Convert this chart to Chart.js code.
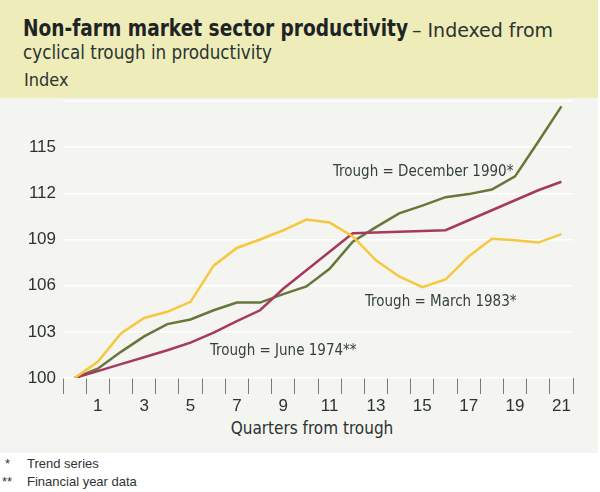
<!DOCTYPE html>
<html>
<head>
<meta charset="utf-8">
<script src="https://cdn.jsdelivr.net/npm/chart.js@4/dist/chart.umd.min.js"></script>
<style>
  html, body { margin: 0; padding: 0; background: #ffffff; }
  #wrap { position: relative; width: 600px; height: 492px; overflow: hidden; background: #ffffff; font-family: "Liberation Sans", Arial, sans-serif; }
  #header { position: absolute; left: 0; top: 0; width: 598px; height: 98px; background: #EEEDB9; }
  #plotbg { position: absolute; left: 0; top: 98px; width: 598px; height: 355px; background: #F4F4F0; }
  .fit { position: absolute; white-space: nowrap; transform-origin: 0 0; display: inline-block; }
  #t1b { left: 23px; top: 15px; font-family: "DejaVu Sans Condensed", "Liberation Sans", sans-serif; font-weight: bold; font-size: 23px; color: #1e2424; }
  #t1r { left: 412px; top: 18px; font-family: "DejaVu Sans Condensed", "Liberation Sans", sans-serif; font-size: 20px; color: #2b3333; }
  #title2 { left: 23px; top: 41px; font-family: "DejaVu Sans Condensed", "Liberation Sans", sans-serif; font-size: 19px; color: #2b3333; }
  #ylab { position: absolute; left: 24px; top: 69px; font-family: "DejaVu Sans Condensed", sans-serif; font-size: 18px; color: #2b3333; }
  #xtitle { position: absolute; left: 0; width: 624px; top: 418px; text-align: center; font-family: "DejaVu Sans Condensed", sans-serif; font-size: 17px; color: #2b3333; }
  .fn { position: absolute; font-size: 13px; color: #333; white-space: nowrap; }
  canvas { position: absolute; left: 0; top: 0; }
</style>
</head>
<body>
<div id="wrap">
  <div id="header"></div>
  <div id="plotbg"></div>
  <div id="t1b" class="fit" data-w="385">Non-farm market sector productivity</div>
  <div id="t1r" class="fit" data-w="141">– Indexed from</div>
  <div id="title2" class="fit" data-w="249">cyclical trough in productivity</div>
  <div id="ylab">Index</div>
  <div id="xtitle">Quarters from trough</div>
  <div class="fn" style="left:5px; top:456px;">*</div>
  <div class="fn" style="left:27px; top:456px;">Trend series</div>
  <div class="fn" style="left:2px; top:474px;">**</div>
  <div class="fn" style="left:27px; top:474px;">Financial year data</div>
  <canvas id="c" width="600" height="492"></canvas>
</div>
<script>
document.querySelectorAll('.fit').forEach(el => {
  const target = parseFloat(el.dataset.w);
  const w = el.getBoundingClientRect().width;
  if (w > 0) el.style.transform = 'scaleX(' + (target / w) + ')';
});

const quarters = ['0','1','2','3','4','5','6','7','8','9','10','11','12','13','14','15','16','17','18','19','20','21'];
const shownTickLabels = ['1','3','5','7','9','11','13','15','17','19','21'];
const yTickLabels = [100, 103, 106, 109, 112, 115];

const trough1974 = [100, 100.45, 100.9, 101.35, 101.8, 102.3, 102.95, 103.7, 104.4, 105.8, 107.0, 108.2, 109.4, 109.45, 109.5, 109.55, 109.6, 110.25, 110.9, 111.55, 112.2, 112.75];
const trough1983 = [100, 101.05, 102.9, 103.9, 104.3, 104.95, 107.3, 108.45, 109.0, 109.6, 110.3, 110.1, 109.2, 107.65, 106.6, 105.9, 106.4, 107.9, 109.05, 108.95, 108.8, 109.35];
const trough1990 = [100, 100.6, 101.7, 102.7, 103.5, 103.8, 104.4, 104.9, 104.9, 105.45, 105.95, 107.1, 108.85, 109.8, 110.7, 111.2, 111.75, 111.95, 112.25, 113.1, 115.35, 117.65];

const annotations = [
  { text: 'Trough = December 1990*', x: 333, y: 172 },
  { text: 'Trough = March 1983*', x: 365, y: 302 },
  { text: 'Trough = June 1974**', x: 210, y: 351 }
];

const annotationPlugin = {
  id: 'annotext',
  afterDatasetsDraw(chart) {
    const ctx = chart.ctx;
    ctx.save();
    ctx.font = '15px "DejaVu Sans Condensed", sans-serif';
    ctx.fillStyle = '#34403f';
    ctx.textBaseline = 'middle';
    ctx.textAlign = 'left';
    annotations.forEach(a => ctx.fillText(a.text, a.x, a.y));
    ctx.restore();
  }
};

new Chart(document.getElementById('c'), {
  type: 'line',
  data: {
    labels: quarters,
    datasets: [
      { label: 'Trough = March 1983*', data: trough1983, borderColor: '#F6C83E', borderWidth: 2.5, pointRadius: 0, tension: 0 },
      { label: 'Trough = June 1974**', data: trough1974, borderColor: '#A6395E', borderWidth: 2.5, pointRadius: 0, tension: 0 },
      { label: 'Trough = December 1990*', data: trough1990, borderColor: '#66773A', borderWidth: 2.5, pointRadius: 0, tension: 0 }
    ]
  },
  options: {
    responsive: false,
    animation: false,
    layout: { padding: { left: 0, right: 27, top: 101, bottom: 0 } },
    plugins: { legend: { display: false }, tooltip: { enabled: false } },
    scales: {
      x: {
        type: 'category',
        offset: true,
        afterFit(scale) { scale.height = 114; },
        border: { display: false },
        grid: { offset: true, drawOnChartArea: false, drawTicks: true, tickLength: 16, color: '#7a7a7a', lineWidth: 1 },
        ticks: {
          autoSkip: false, maxRotation: 0, padding: 2,
          color: '#2b3333',
          font: { family: '"Liberation Sans", Arial, sans-serif', size: 17 },
          callback(v, i) { const l = quarters[i]; return shownTickLabels.includes(l) ? l : ''; }
        }
      },
      y: {
        min: 100, max: 118,
        afterFit(scale) { scale.width = 63; },
        afterBuildTicks(scale) { scale.ticks = yTickLabels.concat([118]).map(v => ({ value: v })); },
        border: { display: false },
        grid: { color: '#ffffff', lineWidth: 1.5, drawTicks: false },
        ticks: {
          padding: 7, color: '#2b3333',
          font: { family: '"Liberation Sans", Arial, sans-serif', size: 17 },
          callback(v) { return yTickLabels.includes(v) ? String(v) : ''; }
        }
      }
    }
  },
  plugins: [annotationPlugin]
});
</script>
</body>
</html>
